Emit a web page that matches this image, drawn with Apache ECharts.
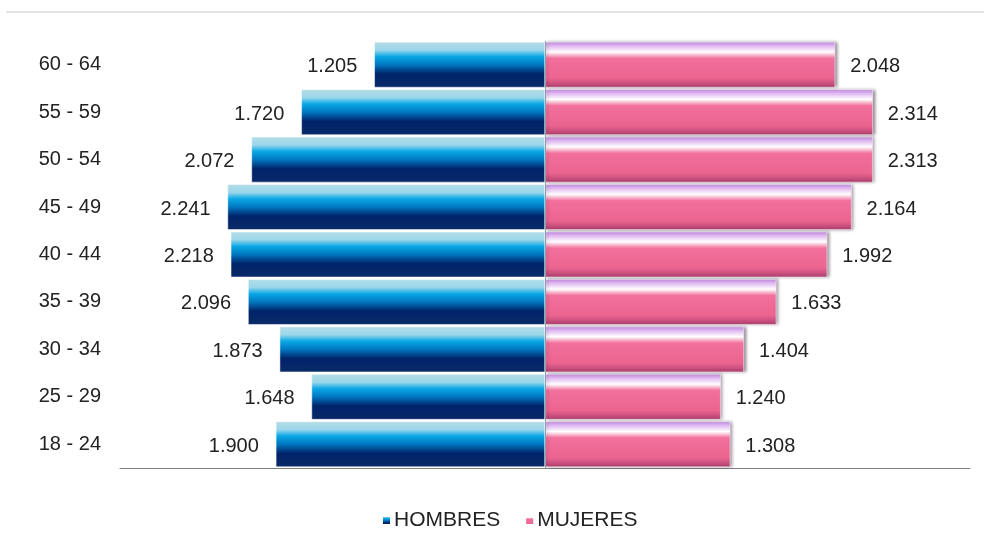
<!DOCTYPE html>
<html><head><meta charset="utf-8">
<script src="https://cdn.jsdelivr.net/npm/echarts@6/dist/echarts.min.js"></script>
<style>html,body{margin:0;padding:0;background:#fff}#c{width:984px;height:547px}</style>
</head><body><div id="c"></div>
<script>
const categories = ['18 - 24','25 - 29','30 - 34','35 - 39','40 - 44','45 - 49','50 - 54','55 - 59','60 - 64'];
const hombres = [1900,1648,1873,2096,2218,2241,2072,1720,1205];
const mujeres = [1308,1240,1404,1633,1992,2164,2313,2314,2048];
const seriesNames = ['HOMBRES','MUJERES'];

const fmt = v => { const n = Math.abs(v); return Math.floor(n/1000) + '.' + String(n%1000).padStart(3,'0'); };
const font = '"Liberation Sans", Arial, sans-serif';
const hGrad = new echarts.graphic.LinearGradient(0,0,0,1,[
  {offset:0,color:'#b4dde6'},{offset:0.18,color:'#9ad6ea'},{offset:0.32,color:'#0aa8e6'},
  {offset:0.5,color:'#0077c0'},{offset:0.7,color:'#00246a'},{offset:1,color:'#0a2a68'}]);
const mGrad = new echarts.graphic.LinearGradient(0,0,0,1,[
  {offset:0,color:'#c88ee8'},{offset:0.12,color:'#e8c8f4'},{offset:0.22,color:'#ffffff'},
  {offset:0.36,color:'#f2709c'},{offset:0.8,color:'#ec6490'},{offset:1,color:'#b04070'}]);

const chart = echarts.init(document.getElementById('c'), null, {renderer:'canvas'});
chart.setOption({
  animation:false,
  textStyle:{fontFamily:font},
  graphic:[{type:'line',shape:{x1:6,y1:12,x2:984,y2:12},style:{stroke:'#c8c8c8',lineWidth:1}}],
  grid:{left:120,right:14,top:41,bottom:79},
  legend:{data:seriesNames,left:376,top:505,icon:'rect',itemWidth:9,itemHeight:9,itemGap:24,
    textStyle:{fontSize:21,color:'#222',fontFamily:font,padding:[0,0,0,-2]}},
  xAxis:{type:'value',min:-3000,max:3000,axisLabel:{show:false},axisTick:{show:false},splitLine:{show:false},
    axisLine:{show:true,onZero:false,lineStyle:{color:'#808080',width:1}}},
  yAxis:{type:'category',data:categories,axisLine:{show:false},axisTick:{show:false},
    axisLabel:{fontSize:20,color:'#222',margin:19,fontFamily:font}},
  series:[
    {name:seriesNames[0],type:'bar',stack:'t',barCategoryGap:'4%',data:hombres.map(v=>-v),
      itemStyle:{color:hGrad,borderColor:'#ffffff',borderWidth:0.5},
      label:{show:true,position:'left',distance:17,fontSize:20,color:'#222',fontFamily:font,offset:[0,2],formatter:p=>fmt(p.value)},
      markLine:{silent:true,symbol:'none',label:{show:false},lineStyle:{color:'#8aa0b0',type:'solid',width:1},data:[{xAxis:0}]}},
    {name:seriesNames[1],type:'bar',stack:'t',barCategoryGap:'4%',data:mujeres,
      itemStyle:{color:mGrad,borderColor:'#ffffff',borderWidth:0.5,shadowColor:'rgba(40,20,40,0.5)',shadowBlur:3,shadowOffsetX:2},
      label:{show:true,position:'right',distance:15,fontSize:20,color:'#222',fontFamily:font,offset:[0,2],formatter:p=>fmt(p.value)}}
  ]
});
</script></body></html>
